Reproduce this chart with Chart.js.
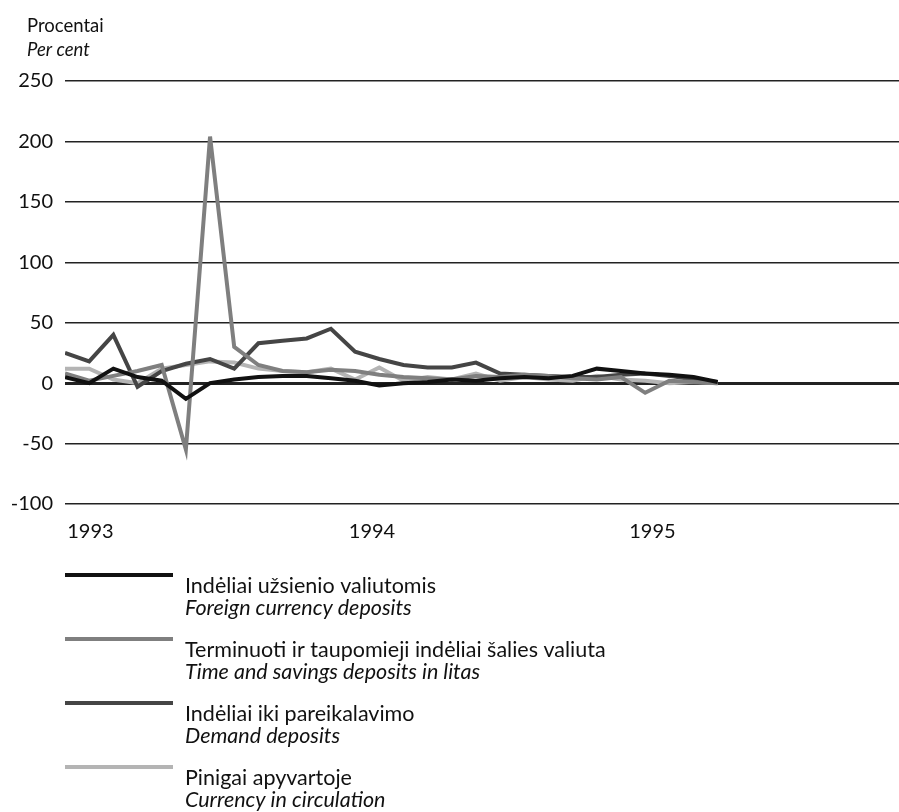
<!DOCTYPE html>
<html>
<head>
<meta charset="utf-8">
<script src="https://cdn.jsdelivr.net/npm/chart.js@4"></script>
<style>
  html, body { margin: 0; padding: 0; background: #fff; }
  #wrap { width: 899px; height: 812px; position: relative; }
</style>
</head>
<body>
<div id="wrap"><canvas id="myChart"></canvas></div>
<script>
// months Jan 1993 .. Apr 1995
let months = ['1993-01','1993-02','1993-03','1993-04','1993-05','1993-06','1993-07','1993-08','1993-09','1993-10','1993-11','1993-12',
  '1994-01','1994-02','1994-03','1994-04','1994-05','1994-06','1994-07','1994-08','1994-09','1994-10','1994-11','1994-12',
  '1995-01','1995-02','1995-03','1995-04']

let foreignDeposits = [5, 0, 12, 5, 2, -13, 0, 3, 5, 6, 6, 4, 2, -2, 0, 1, 3, 2, 4, 5, 4, 6, 12, 10, 8, 7, 5, 1]
let timeSavings = [8, 2, 6, 10, 15, -55, 204, 30, 15, 10, 9, 11, 10, 7, 5, 4, 3, 6, 5, 7, 6, 4, 3, 5, -8, 2, 1, 0]
let demandDeposits = [25, 18, 40, -3, 10, 16, 20, 12, 33, 35, 37, 45, 26, 20, 15, 13, 13, 17, 8, 7, 6, 5, 5, 7, 8, 6, 3, 1]
let currency = [12, 12, 3, 0, 12, 15, 18, 17, 12, 10, 9, 12, 3, 13, 2, 5, 3, 8, 2, 5, 3, 2, 6, 3, 2, 0, 1, 0]

let yearLabels = ['1993', '1994', '1995']
let yearTickPos = [1.05, 12.7, 24.3]
let yTicks = [250, 200, 150, 100, 50, 0, -50, -100]

let seriesNames = [
  ['Indėliai užsienio valiutomis', 'Foreign currency deposits'],
  ['Terminuoti ir taupomieji indėliai šalies valiuta', 'Time and savings deposits in litas'],
  ['Indėliai iki pareikalavimo', 'Demand deposits'],
  ['Pinigai apyvartoje', 'Currency in circulation']
]
let seriesValues = [foreignDeposits, timeSavings, demandDeposits, currency]
let seriesColors = ['#111111', '#7f7f7f', '#454545', '#b4b4b4']

let font = 'Lato, "Open Sans", sans-serif'

let datasets = seriesValues.map((vals, k) => ({
  label: seriesNames[k][1],
  data: vals.map((v, i) => ({ x: i, y: v })),
  borderColor: seriesColors[k],
  borderWidth: 4,
  pointRadius: 0,
  tension: 0,
  fill: false
}))
// draw the black series on top
datasets[0].order = -1

let extraText = {
  id: 'extraText',
  afterDraw(chart) {
    let c = chart.ctx
    c.save()
    c.fillStyle = '#111'
    c.textBaseline = 'alphabetic'
    c.textAlign = 'left'
    c.font = '18.5px ' + font
    c.fillText('Procentai', 27, 32)
    c.font = 'italic 18.5px ' + font
    c.fillText('Per cent', 27, 56)

    // legend
    let y0 = 575
    seriesNames.forEach((nm, k) => {
      let y = y0 + k * 64
      c.strokeStyle = seriesColors[k]
      c.lineWidth = 4
      c.beginPath()
      c.moveTo(65, y)
      c.lineTo(173, y)
      c.stroke()
      c.font = '21.5px ' + font
      c.fillText(nm[0], 185, y + 18)
      c.font = 'italic 21.5px ' + font
      c.fillText(nm[1], 185, y + 40)
    })
    c.restore()
  }
}

let ctx = document.getElementById('myChart').getContext('2d')

let myChart = new Chart(ctx, {
  type: 'line',
  data: { datasets: datasets },
  options: {
    responsive: true,
    maintainAspectRatio: false,
    animation: false,
    layout: { padding: { top: 81, right: 0, bottom: 260, left: 0 } },
    plugins: {
      legend: { display: false },
      tooltip: { enabled: false }
    },
    scales: {
      x: {
        type: 'linear',
        min: 0,
        max: 34.5,
        afterBuildTicks: s => { s.ticks = yearTickPos.map(v => ({ value: v })) },
        ticks: {
          autoSkip: false,
          maxRotation: 0,
          color: '#111',
          font: { family: font, size: 20 },
          padding: 8,
          callback: (v, i) => yearLabels[i]
        },
        grid: { display: false },
        border: { display: false }
      },
      y: {
        min: -100,
        max: 250,
        afterBuildTicks: s => { s.ticks = yTicks.map(v => ({ value: v })) },
        afterFit: s => { s.width = 65 },
        ticks: {
          color: '#111',
          font: { family: font, size: 20 },
          padding: 12
        },
        grid: {
          drawTicks: false,
          color: '#222',
          lineWidth: ctx => ctx.tick && ctx.tick.value === 0 ? 3 : 1.5
        },
        border: { display: false }
      }
    }
  },
  plugins: [extraText]
})
</script>
</body>
</html>
